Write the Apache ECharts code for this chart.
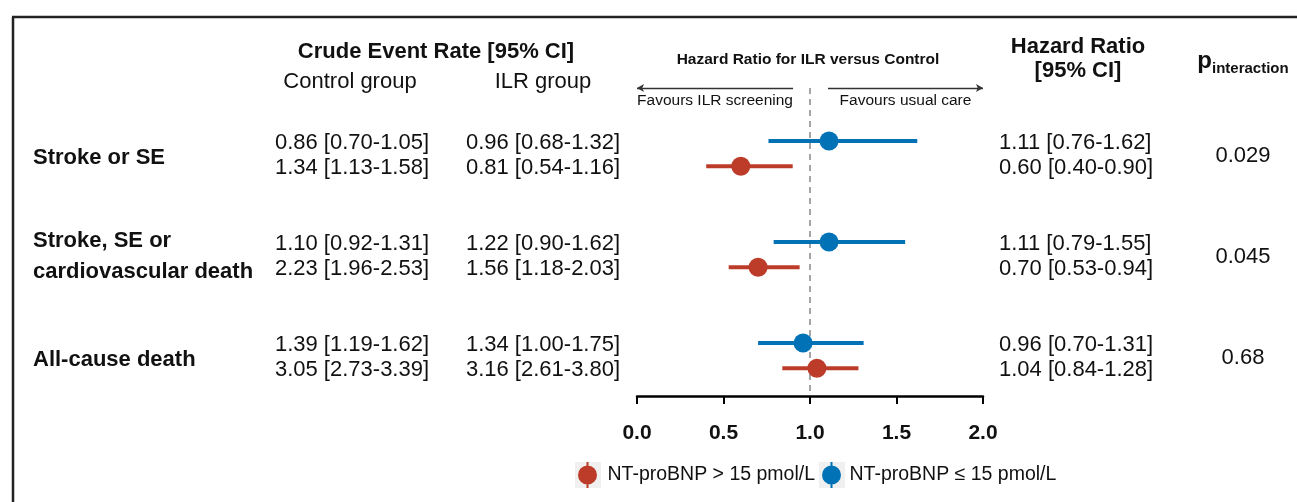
<!DOCTYPE html>
<html>
<head>
<meta charset="utf-8">
<script src="https://cdn.jsdelivr.net/npm/echarts/dist/echarts.min.js"></script>
<style>
html,body{margin:0;padding:0;background:#fff;}
#c{width:1297px;height:502px;}
</style>
</head>
<body>
<div id="c"></div>
<script>
// ---------------- data ----------------
const outcomes = ['Stroke or SE', 'Stroke, SE or\ncardiovascular death', 'All-cause death'];
const groupNames = ['NT-proBNP > 15 pmol/L', 'NT-proBNP \u2264 15 pmol/L'];

// crude event rate [95% CI] (first line = NT-proBNP <= 15, second line = > 15)
const controlLowNT  = ['0.86 [0.70-1.05]', '1.10 [0.92-1.31]', '1.39 [1.19-1.62]'];
const controlHighNT = ['1.34 [1.13-1.58]', '2.23 [1.96-2.53]', '3.05 [2.73-3.39]'];
const ilrLowNT      = ['0.96 [0.68-1.32]', '1.22 [0.90-1.62]', '1.34 [1.00-1.75]'];
const ilrHighNT     = ['0.81 [0.54-1.16]', '1.56 [1.18-2.03]', '3.16 [2.61-3.80]'];

// hazard ratios
const hrLowNT   = [1.11, 1.11, 0.96];
const loLowNT   = [0.76, 0.79, 0.70];
const hiLowNT   = [1.62, 1.55, 1.31];
const hrHighNT  = [0.60, 0.70, 1.04];
const loHighNT  = [0.40, 0.53, 0.84];
const hiHighNT  = [0.90, 0.94, 1.28];

const pInteraction = ['0.029', '0.045', '0.68'];
const xTickLabels = ['0.0', '0.5', '1.0', '1.5', '2.0'];

// ---------------- chart ----------------
const FONT = '"Liberation Sans", Arial, Helvetica, sans-serif';
const RED = '#BC3C29', BLUE = '#0072B5', INK = '#111';
const Y_MIN = -2.1, Y_MAX = 10.1;
const yOf = (g, high) => g * 4 + (high ? 1 : 0);
const fmt = v => v.toFixed(2);

const chart = echarts.init(document.getElementById('c'));

function ciSeries(name, lo, hi, high, color) {
  return {
    type: 'custom', name: name, silent: true, z: 3,
    data: lo.map((l, i) => [l, hi[i], yOf(i, high)]),
    encode: { x: [0, 1], y: 2 },
    renderItem: function (params, api) {
      const a = api.coord([api.value(0), api.value(2)]);
      const b = api.coord([api.value(1), api.value(2)]);
      return { type: 'line', shape: { x1: a[0], y1: a[1], x2: b[0], y2: b[1] },
               style: { stroke: color, lineWidth: 4 } };
    }
  };
}

const iconPath = 'path://M9,0 H11 V26 H9 Z M0.5,13 A9.5,9.5 0 1,1 19.5,13 A9.5,9.5 0 1,1 0.5,13 Z';

const option = {
  animation: false,
  textStyle: { fontFamily: FONT },
  grid: { left: 637, right: 314, top: 88, bottom: 106 },
  xAxis: {
    type: 'value', min: 0, max: 2, interval: 0.5,
    axisLine: { onZero: false, lineStyle: { color: '#000', width: 2.5 } },
    axisTick: { length: 8, lineStyle: { color: '#000', width: 2 } },
    axisLabel: { formatter: v => xTickLabels[Math.round(v / 0.5)], fontSize: 21, fontWeight: 'bold', color: INK, margin: 27, fontFamily: FONT },
    splitLine: { show: false }
  },
  yAxis: { type: 'value', min: Y_MIN, max: Y_MAX, inverse: true, show: false },
  legend: [
    { data: [groupNames[0]], left: 578, top: 462, padding: 0, itemWidth: 20, itemHeight: 26, icon: iconPath,
      textStyle: { fontSize: 19.5, color: INK, fontFamily: FONT, padding: [0, 0, 0, 5] }, selectedMode: false },
    { data: [groupNames[1]], left: 822, top: 462, padding: 0, itemWidth: 20, itemHeight: 26, icon: iconPath,
      textStyle: { fontSize: 19.5, color: INK, fontFamily: FONT, padding: [0, 0, 0, 3] }, selectedMode: false }
  ],
  series: [
    ciSeries('ci-high', loHighNT, hiHighNT, true, RED),
    ciSeries('ci-low', loLowNT, hiLowNT, false, BLUE),
    {
      type: 'scatter', name: groupNames[0], symbol: 'circle', symbolSize: 19, z: 4,
      itemStyle: { color: RED, opacity: 1 },
      data: hrHighNT.map((v, i) => [v, yOf(i, true)])
    },
    {
      type: 'scatter', name: groupNames[1], symbol: 'circle', symbolSize: 19, z: 4,
      itemStyle: { color: BLUE, opacity: 1 },
      data: hrLowNT.map((v, i) => [v, yOf(i, false)]),
      markLine: {
        silent: true, symbol: 'none', animation: false, z: 1,
        label: { show: false },
        data: [
          [{ coord: [1, Y_MIN], lineStyle: { type: [6, 5], color: '#9c9c9c', width: 1.8 } }, { coord: [1, Y_MAX] }],
          [{ coord: [0.902, Y_MIN], symbol: 'none', lineStyle: { type: 'solid', color: '#333', width: 1.3 } },
           { coord: [0, Y_MIN], symbol: 'arrow', symbolSize: [6, 7] }],
          [{ coord: [1.104, Y_MIN], symbol: 'none', lineStyle: { type: 'solid', color: '#333', width: 1.3 } },
           { coord: [2, Y_MIN], symbol: 'arrow', symbolSize: [6, 7] }]
        ]
      }
    }
  ]
};
chart.setOption(option);

// ---------------- text table ----------------
const py = v => chart.convertToPixel({ yAxisIndex: 0 }, v);
const px = v => chart.convertToPixel({ xAxisIndex: 0 }, v);
function txt(x, y, s, size, bold, align, extra) {
  return Object.assign({
    type: 'text', x: x, y: y, silent: true,
    style: { text: s, fontSize: size, fontWeight: bold ? 'bold' : 'normal', fontFamily: FONT,
             fill: INK, textAlign: align || 'center', textVerticalAlign: 'middle' }
  }, extra || {});
}

const g = [];
// frame
g.push({ type: 'line', shape: { x1: 12, y1: 17, x2: 1297, y2: 17 }, style: { stroke: '#222', lineWidth: 2.5 } });
g.push({ type: 'line', shape: { x1: 13, y1: 17, x2: 13, y2: 502 }, style: { stroke: '#222', lineWidth: 2.5 } });
// legend key backgrounds
g.push({ type: 'rect', z: -1, shape: { x: 575, y: 462, width: 26, height: 26 }, style: { fill: '#f0f0f0' } });
g.push({ type: 'rect', z: -1, shape: { x: 819, y: 462, width: 26, height: 26 }, style: { fill: '#f0f0f0' } });

// headers
g.push(txt(436, 52, 'Crude Event Rate [95% CI]', 22, true));
g.push(txt(350, 82, 'Control group', 22, false));
g.push(txt(543, 82, 'ILR group', 22, false));
g.push(txt(px(1) - 2, 60, 'Hazard Ratio for ILR versus Control', 15.5, true));
const yTop = py(Y_MIN);
g.push(txt((px(0) + px(0.902)) / 2, yTop + 13, 'Favours ILR screening', 15.5, false));
g.push(txt((px(1.104) + px(2)) / 2, yTop + 13, 'Favours usual care', 15.5, false));
g.push(txt(1078, 59, 'Hazard Ratio\n[95% CI]', 22, true, 'center', {}));
g[g.length - 1].style.lineHeight = 24;
g.push({
  type: 'text', x: 1243, y: 61, silent: true,
  style: {
    text: '{p|p}{s|interaction}', textAlign: 'center', textVerticalAlign: 'middle',
    rich: {
      p: { fontSize: 24, fontWeight: 'bold', fontFamily: FONT, fill: INK, verticalAlign: 'bottom' },
      s: { fontSize: 15, fontWeight: 'bold', fontFamily: FONT, fill: INK, verticalAlign: 'bottom', padding: [0, 0, -3, 0] }
    }
  }
});

// rows
outcomes.forEach((name, i) => {
  const yLow = py(yOf(i, false)) + 2;
  const yHigh = py(yOf(i, true)) + 2;
  const yMid = py(yOf(i, false) + 0.5);
  const lines = name.split('\n');
  if (lines.length === 1) {
    g.push(txt(33, yMid + 4, name, 22, true, 'left'));
  } else {
    g.push(txt(33, yMid - 14, lines[0], 22, true, 'left'));
    g.push(txt(33, yMid + 17, lines[1], 22, true, 'left'));
  }
  g.push(txt(352, yLow, controlLowNT[i], 22, false));
  g.push(txt(352, yHigh, controlHighNT[i], 22, false));
  g.push(txt(543, yLow, ilrLowNT[i], 22, false));
  g.push(txt(543, yHigh, ilrHighNT[i], 22, false));
  g.push(txt(999, yLow, fmt(hrLowNT[i]) + ' [' + fmt(loLowNT[i]) + '-' + fmt(hiLowNT[i]) + ']', 22, false, 'left'));
  g.push(txt(999, yHigh, fmt(hrHighNT[i]) + ' [' + fmt(loHighNT[i]) + '-' + fmt(hiHighNT[i]) + ']', 22, false, 'left'));
  g.push(txt(1243, yMid + 2, pInteraction[i], 22, false));
});

chart.setOption({ graphic: g });
</script>
</body>
</html>
